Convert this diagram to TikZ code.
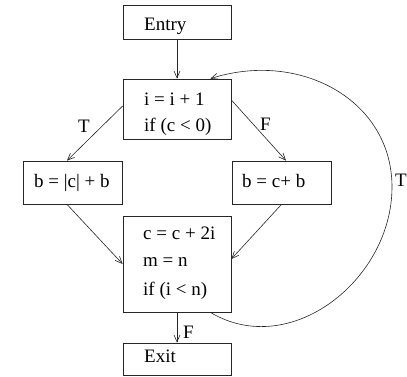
\documentclass[tikz,border=0pt]{standalone}
\usepackage{fontspec}
\setmainfont{Liberation Serif}
\usetikzlibrary{arrows.meta}
\begin{document}
\begin{tikzpicture}[x=1pt,y=-1pt,
  box/.style={draw=black!85, line width=0.75pt, rectangle, inner sep=0pt},
  txt/.style={inner sep=0pt, anchor=base west, font=\fontsize{19}{22}\selectfont},
  lbl/.style={inner sep=0pt, anchor=base west, font=\fontsize{19}{22}\selectfont},
  conn/.style={draw=black!85, line width=0.6pt, -{Straight Barb[length=7pt,width=6pt]}}]
\useasboundingbox (0,0) rectangle (407,376);
% boxes
\node[box, minimum width=108, minimum height=34] (entry) at (177,22) {};
\node[box, minimum width=108, minimum height=60] (b2) at (177,109) {};
\node[box, minimum width=99, minimum height=43] (bl) at (72.5,182.5) {};
\node[box, minimum width=99, minimum height=43] (br) at (281.5,182.5) {};
\node[box, minimum width=108, minimum height=96] (b4) at (177,264) {};
\node[box, minimum width=108, minimum height=32] (exit) at (177,359) {};
% texts
\node[txt] (tentry) at (144,30) {Entry};
\node[txt] (t2a) at (144,105) {i = i + 1};
\node[txt] (t2b) at (144,131) {if (c < 0)};
\node[txt] (tl) at (34,187) {b = |c| + b};
\node[txt] (tr) at (242,187) {b = c+ b};
\node[txt] (t4a) at (143,239) {c = c + 2i};
\node[txt] (t4b) at (143,266) {m = n};
\node[txt] (t4c) at (143,295) {if (i < n)};
\node[txt] (texit) at (144,362) {Exit};
% connectors
\draw[conn] (entry.south) -- (b2.north);
\draw[conn] ([yshift=3pt]b2.west) -- ([xshift=-5.5pt]bl.north);
\draw[conn] ([yshift=9pt]b2.east) -- ([xshift=4.5pt]br.north);
\draw[conn] ([xshift=-5.5pt]bl.south) -- (b4.west);
\draw[conn] (br.south) -- ([yshift=5pt]b4.east);
\draw[conn] (b4.south) -- (exit.north);
\coordinate (rt) at (392,187);
\draw[conn] ([xshift=-21pt]b4.south east) .. controls (290,360) and (392,280) .. (rt)
  .. controls (392,100) and (300,50) .. ([xshift=-21pt]b2.north east);
% labels
\node[lbl] (lT) at (78,132) {T};
\node[lbl] (lF) at (260,130) {F};
\node[lbl] (rT) at (395,186) {T};
\node[lbl] (bF) at (183,338) {F};
\end{tikzpicture}
\end{document}
